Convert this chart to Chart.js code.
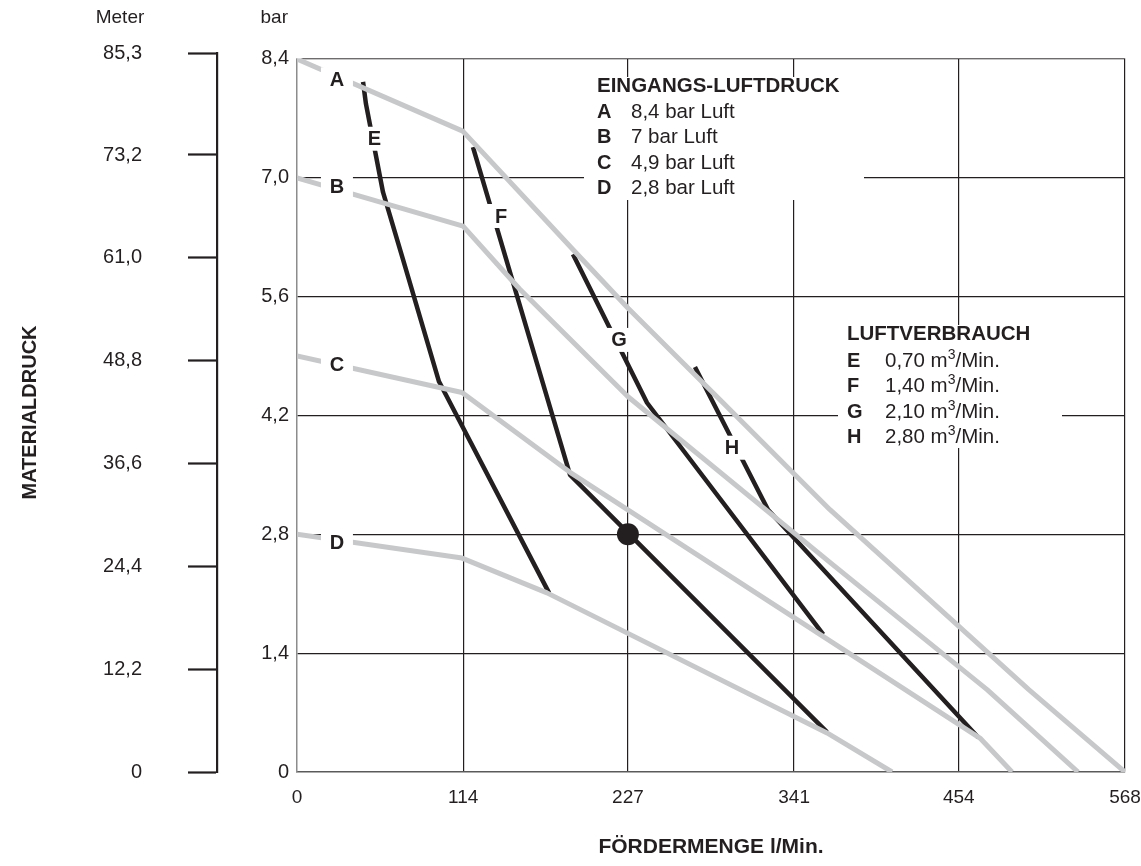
<!DOCTYPE html>
<html>
<head>
<meta charset="utf-8">
<script src="https://cdn.jsdelivr.net/npm/chart.js@4.4.1/dist/chart.umd.min.js"></script>
<style>
  html, body { margin: 0; padding: 0; background: #fff; }
  #wrap { width: 1141px; height: 866px; }
</style>
</head>
<body>
<div id="wrap"><canvas id="pumpChart" width="1141" height="866"></canvas></div>
<script>
// Eingangs-Luftdruck curves (gray): Fördermenge l/Min. -> Materialdruck bar
const flowA = [0, 113.7, 189.6, 227.3, 288.1, 365.6, 502, 568];
const barA  = [8.4, 7.55, 6.15, 5.46, 4.42, 3.09, 0.97, 0];
const flowB = [0, 113.9, 152.7, 227.1, 365.6, 473.4, 535.8];
const barB  = [7.0, 6.43, 5.69, 4.42, 2.47, 0.97, 0];
const flowC = [0, 113.2, 187.3, 468.5, 490.5];
const barC  = [4.9, 4.47, 3.53, 0.40, 0];
const flowD = [0, 113.2, 171.5, 363.6, 408.2];
const barD  = [2.8, 2.52, 2.11, 0.46, 0];

// Luftverbrauch curves (black)
const flowE = [45.3, 47.3, 59.0, 72.7, 97.4, 172.9];
const barE  = [8.13, 7.87, 6.83, 6.04, 4.60, 2.11];
const flowF = [120.7, 187.3, 363.6];
const barF  = [7.36, 3.50, 0.47];
const flowG = [189.3, 240.1, 361.0];
const barG  = [6.10, 4.35, 1.62];
const flowH = [273.0, 323.1, 467.2];
const barH  = [4.77, 3.09, 0.41];

// operating point
const workFlow = [227];
const workBar  = [2.8];

// axis ticks
const xTicks = [0, 114, 227, 341, 454, 568];
const barTicks = [0, 1.4, 2.8, 4.2, 5.6, 7.0, 8.4];
const meterTicks = [0, 12.2, 24.4, 36.6, 48.8, 61.0, 73.2, 85.3];

const GRAY = '#c7c8ca';
const INK = '#231f20';
const NONE = 'rgba(0,0,0,0)';
const FONT = "'Liberation Sans', Arial, Helvetica, sans-serif";

Chart.defaults.font.family = FONT;
Chart.defaults.color = INK;

const pts = (xs, ys) => xs.map((x, i) => ({ x: x, y: ys[i] }));
const comma = v => v === 0 ? '0' : v.toFixed(1).replace('.', ',');

function curve(xs, ys, color, width, order) {
  return {
    data: pts(xs, ys),
    showLine: true,
    borderColor: color,
    borderWidth: width,
    borderCapStyle: 'butt',
    borderJoinStyle: 'round',
    pointRadius: 0,
    tension: 0,
    fill: false,
    order: order
  };
}

// fixed axis sizes so the plot sits where the original does
function fixSize(prop, size) {
  return s => {
    s[prop] = size;
    s.paddingLeft = s.paddingRight = s.paddingTop = s.paddingBottom = 0;
  };
}

// curve letters sit on the lines, in data coordinates
const curveLabels = [
  { t: 'A', x: 27.4, y: 8.16 },
  { t: 'B', x: 27.4, y: 6.90 },
  { t: 'C', x: 27.4, y: 4.80 },
  { t: 'D', x: 27.4, y: 2.70 },
  { t: 'E', x: 53.1, y: 7.46 },
  { t: 'F', x: 140.1, y: 6.55 },
  { t: 'G', x: 220.9, y: 5.09 },
  { t: 'H', x: 298.4, y: 3.82 }
];

const pressLegend = [['A', '8,4 bar Luft'], ['B', '7 bar Luft'], ['C', '4,9 bar Luft'], ['D', '2,8 bar Luft']];
const airLegend = [['E', '0,70'], ['F', '1,40'], ['G', '2,10'], ['H', '2,80']];

const annotations = {
  id: 'annotations',
  afterDatasetsDraw(chart) {
    const { ctx } = chart;
    const x = chart.scales.x, y = chart.scales.y;
    ctx.save();
    ctx.textBaseline = 'middle';

    // white strip above the 8,4 line (meter scale reaches a bit higher)
    const top84 = y.getPixelForValue(8.4);
    ctx.fillStyle = '#fff';
    ctx.fillRect(chart.chartArea.left - 1, chart.chartArea.top - 1, chart.chartArea.width + 2, top84 - chart.chartArea.top + 0.4);

    // letters on curves, white patch breaks the line
    ctx.textAlign = 'center';
    ctx.font = 'bold 20px ' + FONT;
    curveLabels.forEach(l => {
      const px = x.getPixelForValue(l.x), py = y.getPixelForValue(l.y);
      ctx.fillStyle = '#fff';
      ctx.fillRect(px - 16, py - 12, 32, 24);
      ctx.fillStyle = INK;
      ctx.fillText(l.t, px, py + 1);
    });

    ctx.textAlign = 'left';
    // Eingangs-Luftdruck block
    ctx.fillStyle = '#fff';
    ctx.fillRect(584, 77, 280, 123);
    ctx.fillStyle = INK;
    ctx.font = 'bold 20.5px ' + FONT;
    ctx.fillText('EINGANGS-LUFTDRUCK', 597, 86);
    pressLegend.forEach((r, i) => {
      const ty = 112 + i * 25.5;
      ctx.font = 'bold 20px ' + FONT;
      ctx.fillText(r[0], 597, ty);
      ctx.font = '20.5px ' + FONT;
      ctx.fillText(r[1], 631, ty);
    });

    // Luftverbrauch block
    ctx.fillStyle = '#fff';
    ctx.fillRect(838, 325, 224, 123);
    ctx.fillStyle = INK;
    ctx.font = 'bold 20.5px ' + FONT;
    ctx.fillText('LUFTVERBRAUCH', 847, 334);
    airLegend.forEach((r, i) => {
      const ty = 361 + i * 25.5;
      ctx.font = 'bold 20px ' + FONT;
      ctx.fillText(r[0], 847, ty);
      ctx.font = '20.5px ' + FONT;
      let tx = 885;
      const head = r[1] + ' m';
      ctx.fillText(head, tx, ty);
      tx += ctx.measureText(head).width;
      ctx.font = '14px ' + FONT;
      ctx.fillText('3', tx, ty - 6);
      tx += ctx.measureText('3').width;
      ctx.font = '20.5px ' + FONT;
      ctx.fillText('/Min.', tx, ty);
    });

    // unit captions above the two pressure scales
    ctx.font = '19px ' + FONT;
    ctx.textAlign = 'center';
    ctx.fillText('Meter', 120, 18);
    ctx.textAlign = 'right';
    ctx.fillText('bar', chart.chartArea.left - 9, 18);
    ctx.restore();
  }
};

new Chart(document.getElementById('pumpChart'), {
  type: 'scatter',
  data: {
    datasets: [
      { data: pts(workFlow, workBar), pointRadius: 11, pointBackgroundColor: INK, pointBorderWidth: 0, showLine: false, order: 0 },
      curve(flowA, barA, GRAY, 5, 1),
      curve(flowB, barB, GRAY, 5, 1),
      curve(flowC, barC, GRAY, 5, 1),
      curve(flowD, barD, GRAY, 5, 1),
      curve(flowE, barE, INK, 4.5, 2),
      curve(flowF, barF, INK, 4.5, 2),
      curve(flowG, barG, INK, 4.5, 2),
      curve(flowH, barH, INK, 4.5, 2)
    ]
  },
  options: {
    responsive: false,
    animation: false,
    events: [],
    layout: { padding: { left: 0, right: 16, top: 53, bottom: 0 } },
    plugins: { legend: { display: false }, tooltip: { enabled: false } },
    scales: {
      x: {
        type: 'linear', min: 0, max: 568,
        afterBuildTicks: s => { s.ticks = xTicks.map(v => ({ value: v })); },
        afterFit: fixSize('height', 94),
        grid: { color: c => (c.tick && c.tick.value === 0) ? NONE : INK, lineWidth: 1.2, drawTicks: false },
        border: { display: true, color: '#5a5a5a', width: 1.5 },
        ticks: { color: INK, font: { size: 19 }, padding: 14, maxRotation: 0, autoSkip: false, callback: v => String(v) },
        title: { display: true, text: 'FÖRDERMENGE l/Min.', color: INK, font: { size: 21, weight: 'bold' }, padding: { top: 0, bottom: 6 } }
      },
      y: {
        type: 'linear', position: 'left', min: 0, max: 8.47, weight: 0,
        afterBuildTicks: s => { s.ticks = barTicks.map(v => ({ value: v })); },
        afterFit: fixSize('width', 80),
        grid: { color: c => (c.tick && c.tick.value === 0) ? NONE : INK, lineWidth: 1.2, drawTicks: false },
        border: { display: true, color: '#8c8c8c', width: 1.5 },
        ticks: { color: INK, font: { size: 20 }, padding: 8, autoSkip: false, callback: v => comma(v) }
      },
      m: {
        type: 'linear', position: 'left', min: 0, max: 85.3, weight: 1,
        afterBuildTicks: s => { s.ticks = meterTicks.map(v => ({ value: v })); },
        afterFit: fixSize('width', 217),
        grid: { drawOnChartArea: false, drawTicks: true, tickLength: 29, tickColor: INK, tickWidth: 2.2 },
        border: { display: true, color: INK, width: 2.2 },
        ticks: { color: INK, font: { size: 20 }, padding: 46, autoSkip: false, callback: v => comma(v) },
        title: { display: true, text: 'MATERIALDRUCK', color: INK, font: { size: 20, weight: 'bold' }, padding: { top: 18, bottom: 0 } }
      }
    }
  },
  plugins: [annotations]
});
</script>
</body>
</html>
